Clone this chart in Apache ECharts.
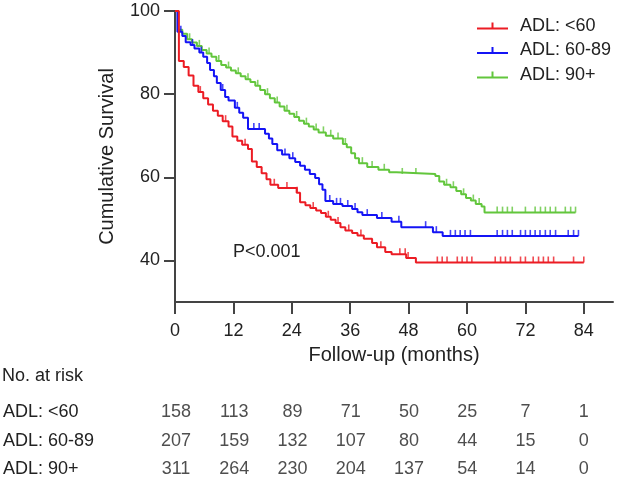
<!DOCTYPE html>
<html>
<head>
<meta charset="utf-8">
<script src="https://cdn.jsdelivr.net/npm/echarts@6/dist/echarts.min.js"></script>
<style>
  html, body { margin: 0; padding: 0; background: #fff; }
  #main { width: 618px; height: 494px; }
</style>
</head>
<body>
<div id="main"></div>
<script>
// time points of the risk table (months)
var months = [0, 12, 24, 36, 48, 60, 72, 84];
var groups = ['ADL: <60', 'ADL: 60-89', 'ADL: 90+'];
var colors = ['#ec1c24', '#1414f5', '#62c63c'];

// numbers at risk, one row per group
var riskLow = [158, 113, 89, 71, 50, 25, 7, 1];
var riskMid = [207, 159, 132, 107, 80, 44, 15, 0];
var riskHigh = [311, 264, 230, 204, 137, 54, 14, 0];

// KM steps [month, survival %]
var stepsLow = [[0,100],[0.8,88],[1.8,86.5],[2.8,84.5],[3.8,82],[4.8,80.5],[5.8,79],[6.8,77.5],[7.8,76],[8.8,74.8],
  [9.8,73.5],[11.0,72.2],[11.8,69.8],[12.8,68.8],[13.8,67.8],[15.0,66.8],[15.8,63.8],[16.8,62.5],[17.8,61],[18.8,59.5],
  [19.6,58.2],[21.2,57.4],[25.0,56.3],[25.7,54],[26.8,53.3],[27.8,52.6],[29.0,52],[30.0,51.4],[31.0,50.5],[32.0,49.8],
  [33.0,49],[34.0,48],[35.0,47.2],[36.4,46.6],[37.5,46],[38.8,45.2],[40.5,44.2],[41.5,43.2],[43.2,42],[44.5,41.5],
  [47.5,40.6],[49.5,39.5]];
var stepsMid = [[0,100],[0.5,95],[1.5,94],[2.2,92.5],[3.2,91.8],[4.0,91],[5.0,90],[5.8,89],[6.6,87.5],[7.2,85.8],
  [8.0,84.3],[8.6,82.7],[9.4,81],[10.3,79.3],[11.0,78.5],[12.3,76.7],[13.2,75.5],[14.0,74.3],[15.0,71.6],[18.5,70.5],
  [19.3,69.3],[20.0,68],[21.0,66.5],[22.0,65.5],[23.5,64.6],[24.7,63.7],[25.7,62.8],[26.7,61.8],[27.7,60.8],[28.8,59.8],
  [29.6,58.3],[30.3,57],[30.9,54.3],[32.5,53.6],[34.4,53.1],[36.4,52.4],[37.5,51.6],[38.5,50.9],[41.5,50.2],[44.5,49.3],
  [46.5,48.0],[53.0,46.8],[55.0,45.9]];
var stepsHigh = [[0,100],[0.6,95.5],[1.5,94.5],[2.5,93.2],[3.5,92.4],[4.5,91.6],[5.5,90.6],[6.5,89.8],[7.5,89],[8.5,88],
  [9.5,87],[10.5,86.4],[11.5,85.7],[12.5,85],[13.5,84.3],[14.5,83.6],[15.5,82.9],[16.5,82],[17.5,81],[18.5,80],
  [19.5,79],[20.5,78],[21.5,77],[22.5,76],[23.5,75.3],[24.5,74.5],[25.5,73.6],[26.5,72.9],[27.5,72.2],[28.5,71.5],
  [29.5,70.8],[31.0,70],[32.5,69.3],[34.5,68],[35.3,67.2],[36.2,65.8],[37.0,64.6],[37.8,63.4],[39.5,62.5],[41.8,61.8],
  [44.0,61.2],[45.5,60.8],[53.5,60.3],[54.3,59],[55.3,58.2],[56.6,57.6],[57.8,56.7],[58.8,55.9],[59.8,55],[60.8,54.4],
  [61.8,53.6],[63.0,53],[63.6,51.5]];

// last follow-up of each group
var endLow = 84, endMid = 82.9, endHigh = 82.3;

// censored observations (months)
var censLow = [5.2,10.4,14.4,20.4,23.0,25.1,28.4,31.5,33.5,35.7,38.2,42.3,46.2,47.3,47.9,53.9,54.9,55.9,58,59,60,61,
  65.8,66.9,67.9,68.9,71,72,73.6,74.7,75.7,76.7,77.8,81.9,84];
var censMid = [1.2,3.6,5.4,9.8,12.8,16.2,17.3,22.6,24.2,31.8,33.2,34.0,35.5,37.0,39.5,42.5,46.0,51.5,53.7,56.6,57.6,58.6,
  59.6,60.7,66.2,67.3,68.3,69.3,71,72,73,74,75,76.1,77.1,78.2,80.8,81.9,82.9];
var censHigh = [3.0,5.0,7.0,9.0,11.0,13.0,15.0,17.0,19.0,21.0,23.0,25.0,27.0,29.0,30.5,32.0,33.5,35.0,38.5,40.5,43.0,
  46.7,49.5,55.8,57.2,59.3,61.3,62.5,66.2,67.3,68.3,69.3,72,74,75.1,76.1,77.1,78.2,80.2,81.3,82.3];

var font = 'Liberation Sans, Arial, sans-serif';
var txt = '#222';

// value of the step curve at time t
function stepAt(steps, t) {
    var s = steps[0][1];
    for (var i = 0; i < steps.length; i++) {
        if (steps[i][0] <= t) s = steps[i][1];
    }
    return s;
}

function lineData(steps, end) {
    return steps.concat([[end, steps[steps.length - 1][1]]]);
}

function censData(steps, cens) {
    return cens.map(function (t) { return [t, stepAt(steps, t)]; });
}

var curves = [
    {name: groups[0], steps: stepsLow, end: endLow, cens: censLow, color: colors[0]},
    {name: groups[1], steps: stepsMid, end: endMid, cens: censMid, color: colors[1]},
    {name: groups[2], steps: stepsHigh, end: endHigh, cens: censHigh, color: colors[2]}
];

var legendIcon = 'path://M0,6 L31,6 L31,8 L0,8 Z M14.5,1 L16.5,1 L16.5,6 L14.5,6 Z';

var series = [];
// draw green first so red sits on top
for (var k = curves.length - 1; k >= 0; k--) {
    var c = curves[k];
    series.push({
        name: c.name,
        type: 'line',
        step: 'end',
        showSymbol: false,
        silent: true,
        color: c.color,
        lineStyle: {width: 2, color: c.color},
        data: lineData(c.steps, c.end),
        z: 3 + (2 - k)
    });
    series.push({
        name: c.name + ' censored',
        type: 'scatter',
        symbol: 'rect',
        symbolSize: [1.6, 6],
        symbolOffset: [0, -3],
        silent: true,
        itemStyle: {color: c.color},
        data: censData(c.steps, c.cens),
        z: 3 + (2 - k)
    });
}

// risk table as labels on a second, hidden grid
var riskRows = [riskLow, riskMid, riskHigh];
var riskData = [];
riskRows.forEach(function (row, r) {
    row.forEach(function (v, i) { riskData.push([months[i], groups[r], v]); });
});
series.push({
    type: 'scatter',
    xAxisIndex: 1,
    yAxisIndex: 1,
    symbolSize: 0,
    silent: true,
    data: riskData,
    label: {
        show: true,
        position: 'inside',
        formatter: function (p) { return p.value[2]; },
        color: txt,
        fontSize: 18,
        fontFamily: font
    }
});

var chart = echarts.init(document.getElementById('main'));
chart.setOption({
    animation: false,
    backgroundColor: '#fff',
    textStyle: {fontFamily: font},
    grid: [
        {left: 175, top: 11, right: 5, height: 291},
        {left: 175, top: 398, right: 5, height: 85.5}
    ],
    legend: {
        orient: 'vertical',
        left: 472,
        top: 12,
        itemWidth: 31,
        itemHeight: 8,
        itemGap: 6.5,
        selectedMode: false,
        data: groups.map(function (g) { return {name: g, icon: legendIcon}; }),
        textStyle: {fontSize: 18, color: txt, fontFamily: font, lineHeight: 18, padding: [0, 0, 0, 7]}
    },
    xAxis: [{
        type: 'value',
        min: 0,
        max: 90,
        name: 'Follow-up (months)',
        nameLocation: 'middle',
        nameGap: 43,
        nameTextStyle: {fontSize: 20, color: txt, fontFamily: font},
        axisLine: {lineStyle: {color: '#444', width: 2}},
        axisTick: {show: true, inside: false, length: 12, lineStyle: {color: '#444', width: 2}, customValues: months},
        axisLabel: {fontSize: 18, color: txt, margin: 20, fontFamily: font, customValues: months},
        splitLine: {show: false}
    }, {
        type: 'value',
        gridIndex: 1,
        min: 0,
        max: 90,
        show: false
    }],
    yAxis: [{
        type: 'value',
        min: 30,
        max: 100,
        name: 'Cumulative Survival',
        nameLocation: 'middle',
        nameGap: 58,
        nameTextStyle: {fontSize: 20, color: txt, fontFamily: font},
        axisLine: {show: true, lineStyle: {color: '#444', width: 2}},
        axisTick: {show: true, length: 11, lineStyle: {color: '#444', width: 2}, customValues: [40, 60, 80, 100]},
        axisLabel: {fontSize: 18, color: txt, margin: 15, fontFamily: font, customValues: [40, 60, 80, 100]},
        splitLine: {show: false}
    }, {
        type: 'category',
        gridIndex: 1,
        data: groups,
        inverse: true,
        axisLine: {show: false},
        axisTick: {show: false},
        splitLine: {show: false},
        axisLabel: {align: 'left', margin: 173, fontSize: 18, color: txt, fontFamily: font}
    }],
    graphic: [
        {type: 'text', left: 233, top: 243, style: {text: 'P<0.001', fontSize: 18, fill: txt, fontFamily: font}},
        {type: 'text', left: 2, top: 367, style: {text: 'No. at risk', fontSize: 18, fill: txt, fontFamily: font}}
    ],
    series: series
});
</script>
</body>
</html>
